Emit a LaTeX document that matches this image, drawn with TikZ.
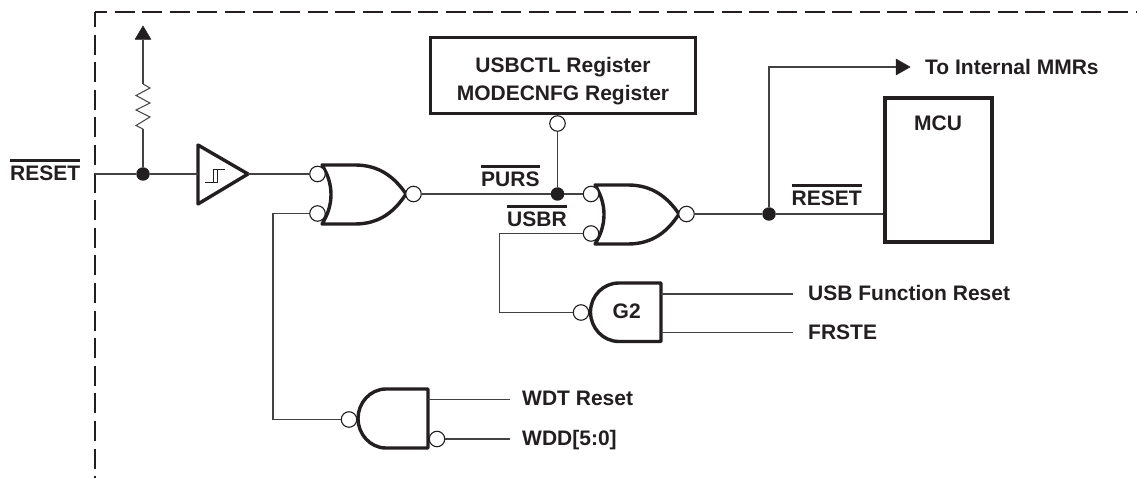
\documentclass[tikz,border=0pt]{standalone}
\usepackage{fontspec}
\setmainfont{Liberation Sans}
\definecolor{ink}{HTML}{231F20}
\newcommand\ovl[1]{\setbox0\hbox{#1}\rlap{\rule[19.3pt]{\wd0}{2.6pt}}\box0 }
\tikzset{
  x=1pt,y=-1pt,
  wire/.style={draw=ink!85,line width=1.1pt},
  thick line/.style={draw=ink,line width=3.4pt,line join=round},
  bub/.style={circle,draw=ink,line width=1.1pt,fill=white,minimum size=15.5pt,inner sep=0pt},
  junc/.style={circle,fill=ink,minimum size=13.5pt,inner sep=0pt},
  lab/.style={inner sep=0pt,anchor=base west,text=ink,font=\fontsize{21}{28}\selectfont\bfseries},
  tipfill/.style={fill=ink,draw=ink,line width=.5pt,line join=round},
}
\begin{document}
\begin{tikzpicture}
\useasboundingbox (0,0) rectangle (1137,478);
\fill[white] (0,0) rectangle (1137,478);
% frame
\draw[draw=ink,line width=1.1pt,dash pattern=on 20pt off 7.6pt,dash phase=5pt] (95,12) -- (95,478);
\draw[draw=ink,line width=1.1pt,dash pattern=on 20pt off 7.6pt,dash phase=8pt] (95,12) -- (1137,12);
% gate bodies
\draw[thick line] (322,165) -- (355,165) .. controls (380,165) and (395,178) .. (406,194)
  .. controls (395,211) and (380,224) .. (355,224) -- (322,224) .. controls (334,205) and (334,184) .. (322,165) -- cycle;
\draw[thick line] (595,185) -- (628,185) .. controls (653,185) and (668,198) .. (679,214)
  .. controls (668,231) and (653,244) .. (628,244) -- (595,244) .. controls (607,225) and (607,204) .. (595,185) -- cycle;
\draw[thick line] (661,283) -- (619,283) .. controls (603,283) and (590.5,296) .. (590.5,312)
  .. controls (590.5,328) and (603,341.5) .. (619,341.5) -- (661,341.5) -- cycle;
\draw[thick line] (428,389) -- (386,389) .. controls (370,389) and (358,403) .. (358,418.5)
  .. controls (358,434) and (370,448) .. (386,448) -- (428,448) -- cycle;
% buffer
\draw[thick line,miter limit=10] (198,145) -- (248,174) -- (198,204) -- cycle;
\draw[draw=ink,line width=1pt] (205,183) -- (217,183) -- (217,170) (213,183) -- (213,170) -- (225,170);
% nodes
\coordinate (edgeL) at (95,174);
\coordinate (bufIn) at (198,174);
\coordinate (bufOut) at (248,174);
\node[junc] (jr) at (143,174) {};
\node[bub] (a1) at (317.5,174) {};
\node[bub] (a2) at (317.5,213.5) {};
\node[bub] (aout) at (413.5,194) {};
\node[junc] (jp) at (557.5,194) {};
\node[bub] (b1) at (591,194) {};
\node[bub] (b2) at (591,233.5) {};
\node[bub] (bout) at (686.5,214) {};
\node[junc] (jo) at (769,214) {};
\node[bub] (reg) at (557.5,123.5) {};
\node[bub] (g2o) at (581,312.5) {};
\node[bub] (wo) at (349,419.5) {};
\node[bub] (wi) at (437,439) {};
\node[draw=ink,line width=3.6pt,minimum width=265pt,minimum height=76pt,inner sep=0pt,align=center,font=\fontsize{21}{28}\selectfont\bfseries,text=ink] (regbox) at (563,75.5) {\strut\\[-21pt]USBCTL Register\\MODECNFG Register};
\node[draw=ink,line width=3.6pt,minimum width=107pt,minimum height=144pt,inner sep=0pt] (mcu) at (938.5,170) {};
% wires
\coordinate (rTop) at (143,84);
\coordinate (rBot) at (143,129);
\coordinate (arrowBase) at (143,40);
\draw[wire] (edgeL) -- (jr) -- (bufIn);
\draw[wire] (jr) -- (rBot);
\draw[wire,line width=1pt] (rBot) -- (136,125.5) -- (150,117) -- (136,110) -- (150,103) -- (136,95.5) -- (150,88) -- (rTop);
\draw[wire] (rTop) -- (arrowBase);
\draw[tipfill] (135,39.5) -- (143,26) -- (151,39.5) -- cycle;
\draw[wire] (bufOut) -- (a1);
\draw[wire] (aout) -- (jp) -- (b1);
\draw[wire] (reg) -- (jp);
\draw[wire] (bout) -- (jo) -- (mcu.west |- jo);
\coordinate (up) at (769,67);
\coordinate (arrowTip) at (897,67);
\draw[wire] (jo) -- (up) -- (arrowTip);
\draw[tipfill] (896,59) -- (910,67) -- (896,75) -- cycle;
\coordinate (l1) at (273,213.5);
\coordinate (l2) at (273,419.5);
\draw[wire] (a2) -- (l1) -- (l2) -- (wo);
\coordinate (u1) at (499.5,233.5);
\coordinate (u2) at (499.5,312.5);
\draw[wire] (b2) -- (u1) -- (u2) -- (g2o);
\coordinate (gi1) at (661,294);
\coordinate (gi2) at (661,332.5);
\coordinate (ge1) at (793,294);
\coordinate (ge2) at (793,332.5);
\draw[wire] (gi1) -- (ge1);
\draw[wire] (gi2) -- (ge2);
\coordinate (wi1) at (428,399.5);
\coordinate (we1) at (510,399.5);
\coordinate (we2) at (510,439);
\draw[wire] (wi1) -- (we1);
\draw[wire] (wi) -- (we2);
% labels
\node[lab] (lreset) at (10,181) {\ovl{RESET}};
\node[lab] (lpurs) at (481,187) {\ovl{PURS}};
\node[lab] (lusbr) at (507,227) {\ovl{USBR}};
\node[lab] (lreset2) at (791.5,206) {\ovl{RESET}};
\node[lab] (lmcu) at (914,131) {MCU};
\node[lab] (lto) at (925,75) {To Internal MMRs};
\node[lab] (lg2) at (612.5,318.5) {G2};
\node[lab] (lusb) at (808,300) {USB Function Reset};
\node[lab] (lfr) at (808,339) {FRSTE};
\node[lab] (lwdt) at (522,405) {WDT Reset};
\node[lab] (lwdd) at (522,445) {WDD[5:0]};
\end{tikzpicture}
\end{document}
